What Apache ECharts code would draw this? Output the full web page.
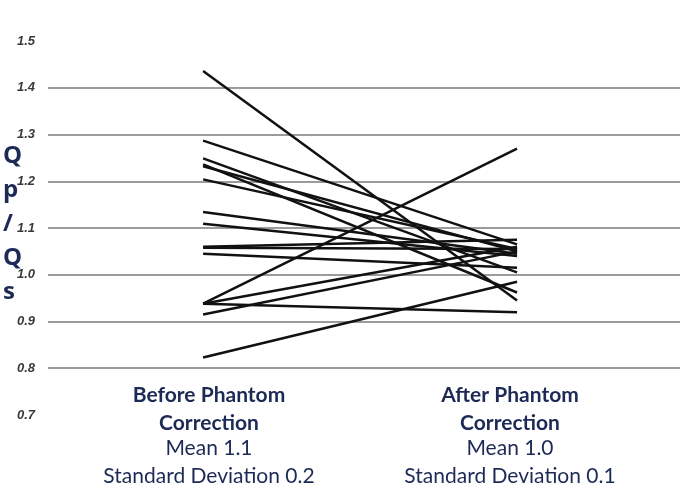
<!DOCTYPE html>
<html>
<head>
<meta charset="utf-8">
<script src="https://cdn.jsdelivr.net/npm/echarts@6/dist/echarts.min.js"></script>
<style>html,body{margin:0;padding:0;background:#fff}#c{width:685px;height:495px}</style>
</head>
<body>
<div id="c"></div>
<script>
// Qp/Qs per subject, before and after phantom correction
const beforeValues = [1.436, 1.287, 1.249, 1.236, 1.232, 1.204, 1.134, 1.109, 1.060, 1.058, 1.045, 0.938, 0.938, 0.938, 0.915, 0.823];
const afterValues  = [0.945, 1.065, 1.005, 0.962, 1.050, 1.055, 1.045, 1.040, 1.075, 1.055, 1.015, 1.270, 1.060, 0.920, 1.050, 0.985];
const categoryTitles = ['Before Phantom', 'After Phantom'];
const categorySub = ['Correction', 'Correction'];
const meanLabels = ['Mean 1.1', 'Mean 1.0'];
const sdLabels = ['Standard Deviation 0.2', 'Standard Deviation 0.1'];
const yTitle = ['Q', 'p', '/', 'Q', 's'];
const yMin = 0.7, yMax = 1.5, yStep = 0.1;

const chart = echarts.init(document.getElementById('c'));
const series = beforeValues.map((b, i) => ({
  type: 'line',
  data: [[0, b], [1, afterValues[i]]],
  symbol: 'none',
  silent: true,
  lineStyle: { color: '#111', width: 2.5 }
}));

const navy = '#1c2a55';
const graphics = [{
  type: 'text', left: 3, top: 139,
  style: { text: yTitle.join('\n'), fill: navy, font: 'bold 24px "Open Sans", sans-serif', lineHeight: 34, align: 'center' }
}];
const cx = [209, 510];
cx.forEach((x, i) => {
  const rows = [
    [categoryTitles[i], 395, 'bold'],
    [categorySub[i], 423, 'bold'],
    [meanLabels[i], 448, 'normal'],
    [sdLabels[i], 476, 'normal']
  ];
  rows.forEach(r => graphics.push({
    type: 'text', x: x, y: r[1],
    style: { text: r[0], fill: navy, font: r[2] + ' 21px Lato, sans-serif', align: 'center', verticalAlign: 'middle' }
  }));
});

chart.setOption({
  animation: false,
  grid: { left: 48, right: 5, top: 41, bottom: 80 },
  xAxis: {
    type: 'value', min: -0.494, max: 1.519,
    show: false
  },
  yAxis: {
    type: 'value', min: yMin, max: yMax, interval: yStep,
    axisLine: { show: false }, axisTick: { show: false },
    axisLabel: {
      margin: 13,
      formatter: v => v.toFixed(1),
      fontFamily: '"Liberation Sans Narrow", "Liberation Sans", sans-serif',
      fontStyle: 'italic', fontWeight: 'bold', fontSize: 13, color: '#3a3a3a'
    },
    splitLine: { show: true, showMinLine: false, showMaxLine: false, lineStyle: { color: '#7a7a7a', width: 1.5 } }
  },
  series: series,
  graphic: graphics
});
</script>
</body>
</html>
